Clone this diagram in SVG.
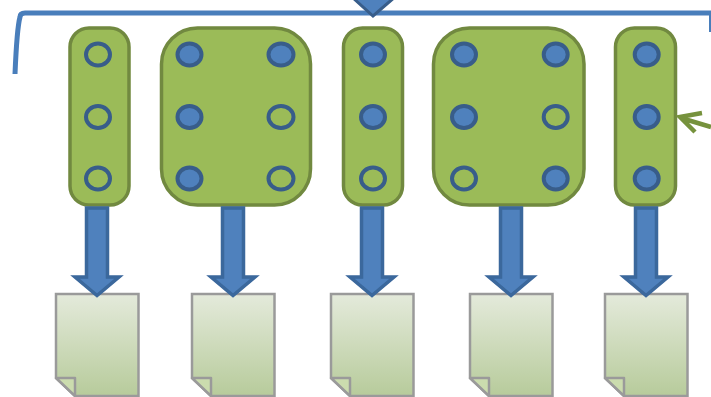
<svg xmlns="http://www.w3.org/2000/svg" width="711" height="397" viewBox="0 0 711 397">
<defs>
<filter id="soft" x="-2%" y="-2%" width="104%" height="104%"><feGaussianBlur stdDeviation="0.6"/></filter>
<linearGradient id="pg" x1="0" y1="0" x2="0" y2="1"><stop offset="0" stop-color="#e4eadb"/><stop offset="1" stop-color="#b7cb9b"/></linearGradient>
<path id="doc" d="M0 0H82.500V102H19L0 84Z" fill="url(#pg)" stroke="#9a9a9a" stroke-width="2.500"/>
<path id="fold" d="M0 84H19V102Z" fill="#cbdcae" stroke="#9a9a9a" stroke-width="2.500" stroke-linejoin="round"/>
<path id="arr" d="M-10.500 0H10.500V69H22L0 87.500L-22 69H-10.500Z" fill="#4f81bd" stroke="#3a679c" stroke-width="3.500"/>
</defs>
<style>
.all{filter:url(#soft)}
.box{fill:#9bbb59;stroke:#71893f;stroke-width:3.500}
.on{fill:#4f81bd;stroke:#385d8a;stroke-width:4}
.off{fill:#9bbb59;stroke:#385d8a;stroke-width:4}
.line{fill:none;stroke:#4a7ebb;stroke-width:5}
</style>
<g class="all">
<g id="node1"><rect class="box" x="70" y="28" width="59" height="177" rx="19"/>
<ellipse class="off" cx="98" cy="54.500" rx="12" ry="11"/><ellipse class="off" cx="98" cy="117" rx="12" ry="11"/><ellipse class="off" cx="98" cy="178.500" rx="12" ry="11"/></g>
<g id="node2"><rect class="box" x="161.500" y="28" width="149" height="177" rx="36"/>
<ellipse class="on" cx="189.500" cy="54.500" rx="12" ry="11"/><ellipse class="on" cx="281" cy="54.500" rx="12.500" ry="11"/><ellipse class="on" cx="189.500" cy="117" rx="12" ry="11"/><ellipse class="off" cx="281" cy="117" rx="12.500" ry="11"/><ellipse class="on" cx="189.500" cy="178.500" rx="12" ry="11"/><ellipse class="off" cx="281" cy="178.500" rx="12.500" ry="11"/></g>
<g id="node3"><rect class="box" x="343.500" y="28" width="59" height="177" rx="19"/>
<ellipse class="on" cx="373" cy="54.500" rx="12" ry="11"/><ellipse class="on" cx="373" cy="117" rx="12" ry="11"/><ellipse class="off" cx="373" cy="178.500" rx="12" ry="11"/></g>
<g id="node4"><rect class="box" x="433.500" y="28" width="150.500" height="177" rx="36"/>
<ellipse class="on" cx="464" cy="54.500" rx="12" ry="11"/><ellipse class="on" cx="555.700" cy="54.500" rx="12" ry="11"/><ellipse class="on" cx="464" cy="117" rx="12" ry="11"/><ellipse class="off" cx="555.700" cy="117" rx="12" ry="11"/><ellipse class="off" cx="464" cy="178.500" rx="12" ry="11"/><ellipse class="on" cx="555.700" cy="178.500" rx="12" ry="11"/></g>
<g id="node5"><rect class="box" x="615.500" y="28" width="60" height="177" rx="19"/>
<ellipse class="on" cx="646.700" cy="54.500" rx="12" ry="11"/><ellipse class="on" cx="646.700" cy="117" rx="12" ry="11"/><ellipse class="on" cx="646.700" cy="178.500" rx="12" ry="11"/></g>
<g id="doc1" transform="translate(56 294)"><use href="#doc"/><use href="#fold"/></g>
<g id="doc2" transform="translate(192 294)"><use href="#doc"/><use href="#fold"/></g>
<g id="doc3" transform="translate(331 294)"><use href="#doc"/><use href="#fold"/></g>
<g id="doc4" transform="translate(470 294)"><use href="#doc"/><use href="#fold"/></g>
<g id="doc5" transform="translate(605 294)"><use href="#doc"/><use href="#fold"/></g>
<g id="connectors">
<path class="line" d="M15 74C16 50 17 28 20 17Q20 13 25 13H711"/>
<path d="M710 13V32" fill="none" stroke="#4a7ebb" stroke-width="2"/>
<path d="M352 -3H395L373 16Z" fill="#4f81bd" stroke="#385d8a" stroke-width="3"/>
<path d="M711 127L681 118M702 113L680 117L695 132" fill="none" stroke="#76923c" stroke-width="4.500"/>
<use href="#arr" x="97" y="208"/>
<use href="#arr" x="233" y="208"/>
<use href="#arr" x="372" y="208"/>
<use href="#arr" x="511" y="208"/>
<use href="#arr" x="646" y="208"/>
</g>
</g>
</svg>
